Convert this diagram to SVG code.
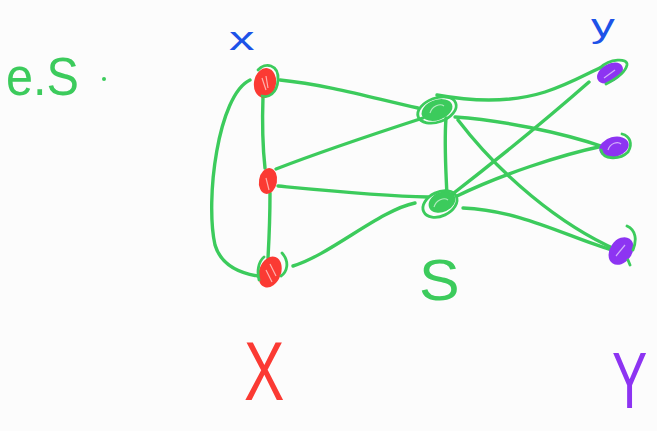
<svg xmlns="http://www.w3.org/2000/svg" width="657" height="431" viewBox="0 0 657 431">
<style>
.e{fill:none;stroke:#3ccb5c;stroke-width:3.4;stroke-linecap:round;stroke-linejoin:round}
.lbl{font-family:"Liberation Sans",sans-serif}
.r{fill:#fb3a33}.p{fill:#8d34f2}.g{fill:#3ccb5c}
.ring{fill:none;stroke:#3ccb5c;stroke-width:2.8;stroke-linecap:round}
.hl{fill:none;stroke:#ffffff;stroke-width:1.2;opacity:0.6}
</style>
<rect width="657" height="431" fill="#fcfcfc"/>
<g id="connectors">
<path class="e" d="M250 80 C218 95 205 200 215 245 C222 268 245 274 258 276"/>
<path class="e" d="M263 96 C262 125 263 150 265 168"/>
<path class="e" d="M270 193 C270 215 269 240 268 258"/>
<path class="e" d="M280 80 C330 85 380 100 418 108"/>
<path class="e" d="M276 169 C320 152 380 132 423 118"/>
<path class="e" d="M278 186 C320 190 380 196 428 197"/>
<path class="e" d="M293 266 C330 255 380 210 415 203"/>
<path class="e" d="M446 118 C444 145 446 170 447 197"/>
<path class="e" d="M437 95 C470 101 510 103 545 92 C570 84 590 72 602 67"/>
<path class="e" d="M455 117 C500 120 560 132 604 147"/>
<path class="e" d="M458 120 C500 175 560 225 617 250"/>
<path class="e" d="M450 196 C490 165 540 125 589 82"/>
<path class="e" d="M457 196 C500 175 560 155 603 146"/>
<path class="e" d="M463 208 C520 210 570 238 612 250"/>
</g>
<g id="node-x1">
<ellipse class="r" cx="265" cy="83" rx="11" ry="15" transform="rotate(10 265 83)"/>
<path class="ring" d="M258 70 C265 62 279 64 278 80 C277 94 268 98 262 96"/>
<path class="hl" d="M262 78 L266 90 M266 76 L268 88"/>
</g>
<g id="node-x2">
<ellipse class="r" cx="268" cy="181" rx="9" ry="13" transform="rotate(10 268 181)"/>
<path class="hl" d="M266 178 L269 190"/>
</g>
<g id="node-x3">
<ellipse class="r" cx="270" cy="272" rx="11" ry="16" transform="rotate(20 270 272)"/>
<path class="ring" d="M264 257 C258 262 257 272 259 280 M282 253 C290 262 287 272 281 276"/>
<path class="hl" d="M266 270 L272 282 M270 264 L276 276"/>
</g>
<g id="node-s1">
<ellipse class="g" cx="437" cy="110" rx="16" ry="10" transform="rotate(-20 437 110)"/>
<ellipse class="ring" cx="437" cy="110" rx="20" ry="12" transform="rotate(-20 437 110)"/>
<path class="hl" d="M430 113 C432 106 440 103 444 106"/>
</g>
<g id="node-s2">
<ellipse class="g" cx="442" cy="202" rx="14" ry="10" transform="rotate(-25 442 202)"/>
<ellipse class="ring" cx="440" cy="204" rx="18" ry="12" transform="rotate(-25 440 204)"/>
<path class="hl" d="M434 207 C436 200 444 197 448 200"/>
</g>
<g id="node-y1">
<ellipse class="p" cx="610" cy="73" rx="14" ry="9" transform="rotate(-30 610 73)"/>
<path class="ring" d="M600 68 C610 58 628 58 627 65 C625 74 614 80 606 84"/>
<path class="hl" d="M604 78 L615 70"/>
</g>
<g id="node-y2">
<ellipse class="p" cx="614" cy="147" rx="15" ry="10" transform="rotate(-15 614 147)"/>
<path class="ring" d="M601 150 C603 160 620 160 628 152 C633 144 630 136 622 134"/>
<path class="hl" d="M608 150 C610 143 618 141 621 144"/>
</g>
<g id="node-y3">
<ellipse class="p" cx="621" cy="251" rx="11" ry="15" transform="rotate(35 621 251)"/>
<path class="ring" d="M627 226 C636 230 637 240 633 250 M628 260 L630 265"/>
<path class="hl" d="M616 256 L625 245"/>
</g>
<g id="labels" class="lbl">
<text transform="translate(6 95) scale(0.9 1)" font-size="54" fill="#3ccb5c">e.S</text>
<circle cx="104" cy="79" r="2" fill="#3ccb5c"/>
<text transform="translate(229 50) scale(1.5 1)" font-size="34" fill="#1d52e8">x</text>
<text transform="translate(591 37) scale(1.4 1)" font-size="34" fill="#1d52e8">y</text>
<text transform="translate(419 300) scale(1.05 1)" font-size="58" fill="#3ccb5c">S</text>
<text transform="translate(244 400) scale(0.72 1)" font-size="84" fill="#fb3a33">X</text>
<text transform="translate(612 408) scale(0.66 1)" font-size="80" fill="#8d34f2">Y</text>
</g>
</svg>
